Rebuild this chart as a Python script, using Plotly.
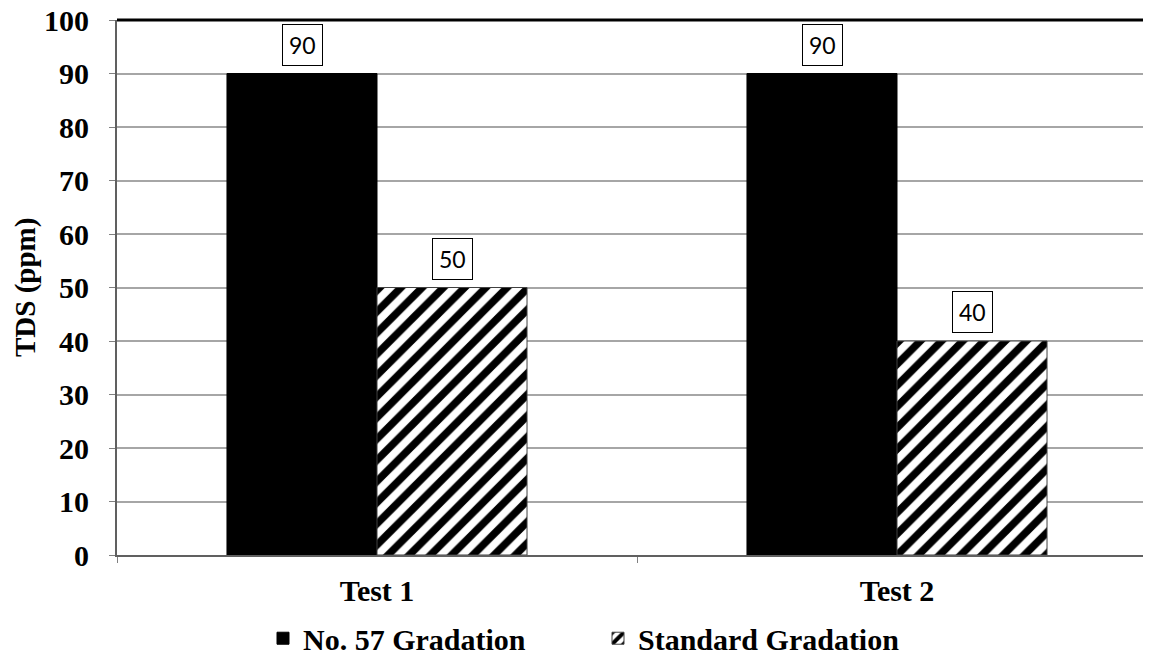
import plotly.graph_objects as go

categories = ["Test 1", "Test 2"]
series_names = ["No. 57 Gradation", "Standard Gradation"]
no57_values = [90, 90]
standard_values = [50, 40]
y_ticks = [0, 10, 20, 30, 40, 50, 60, 70, 80, 90, 100]
y_title = "TDS (ppm)"

SERIF = "Liberation Serif"
fig = go.Figure()
fig.add_trace(go.Bar(
    x=categories, y=no57_values, name=series_names[0],
    marker=dict(color="black", line=dict(color="black", width=1)),
))
fig.add_trace(go.Bar(
    x=categories, y=standard_values, name=series_names[1],
    marker=dict(color="white", line=dict(color="#404040", width=1),
                pattern=dict(shape="/", fgcolor="black", bgcolor="white",
                             fgopacity=1, size=15, solidity=0.5)),
))

annotations = []
for vals, shift in ((no57_values, -75), (standard_values, 75)):
    for c, v in zip(categories, vals):
        annotations.append(dict(
            x=c, y=v, xref="x", yref="y", text=str(v), showarrow=False,
            xshift=shift, yshift=8, yanchor="bottom",
            font=dict(family="Lato", size=23, color="black"),
            bgcolor="white", bordercolor="black", borderwidth=1, borderpad=6,
        ))
annotations.append(dict(
    x=-0.088, y=0.5, xref="paper", yref="paper", text=y_title,
    textangle=-90, showarrow=False, xanchor="center", yanchor="middle",
    font=dict(family=SERIF, size=29, color="black", weight="bold"),
))

fig.update_layout(
    width=1151, height=662,
    margin=dict(l=109, r=2, t=12, b=115, autoexpand=False),
    paper_bgcolor="white", plot_bgcolor="white",
    barmode="group", bargap=0.423, bargroupgap=0,
    showlegend=True,
    legend=dict(orientation="h", xanchor="center", x=0.4625,
                yref="container", yanchor="middle", y=0.048,
                font=dict(family=SERIF, size=30, color="black", weight="bold"),
                itemwidth=30, entrywidth=290, tracegroupgap=0),
    annotations=annotations,
    shapes=[dict(type="line", xref="paper", yref="paper", x0=0, x1=1, y0=1, y1=1,
                 line=dict(color="black", width=3), layer="above")],
)
fig.update_xaxes(
    type="category", range=[-0.5, 1.5], tickson="boundaries",
    ticks="outside", ticklen=6, tickcolor="#808080", tickwidth=1,
    showline=True, linecolor="#606060", linewidth=2,
    showgrid=False, ticklabelstandoff=8, automargin=False,
    tickfont=dict(family=SERIF, size=30, color="black", weight="bold"),
)
fig.update_yaxes(
    range=[0, 100], tickvals=y_ticks,
    ticks="outside", ticklen=6, tickcolor="#808080", tickwidth=1,
    showline=True, linecolor="#606060", linewidth=2,
    showgrid=True, gridcolor="#a6a6a6", gridwidth=1.5,
    zeroline=False, ticklabelstandoff=14, automargin=False,
    ticklabeloverflow="allow",
    tickfont=dict(family=SERIF, size=30, color="black", weight="bold"),
)
fig.write_html("out.html")
